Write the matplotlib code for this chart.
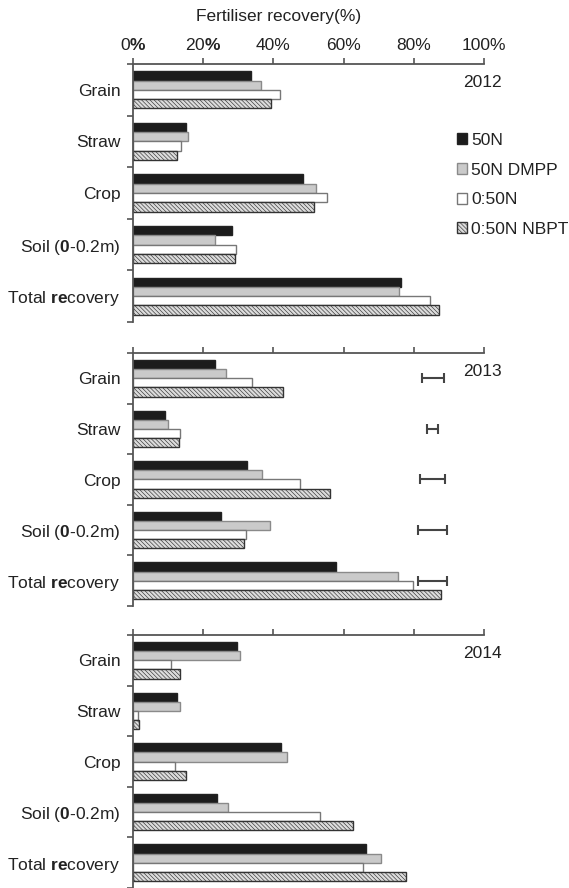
import numpy as np
import matplotlib
matplotlib.use('Agg')
import matplotlib.pyplot as plt

plt.rcParams['font.family'] = ['Liberation Sans', 'DejaVu Sans']
plt.rcParams['mathtext.fontset'] = 'custom'
plt.rcParams['mathtext.rm'] = 'Liberation Sans'
plt.rcParams['mathtext.bf'] = 'Liberation Sans:bold'
plt.rcParams['hatch.linewidth'] = 0.45
plt.rcParams['hatch.color'] = '#6a6a6a'

## Data (fertiliser recovery, %)
categories = ['Grain', 'Straw', 'Crop', r'Soil ($\mathbf{0}$-0.2m)', r'Total $\mathbf{re}$covery']
series = ['50N', '50N DMPP', '0:50N', '0:50N NBPT']
years = ['2012', '2013', '2014']

# rows: series, columns: categories
rec_2012 = [[33.7, 15.0, 48.5, 28.3, 76.3],
            [36.5, 15.7, 52.2, 23.4, 75.7],
            [41.9, 13.6, 55.3, 29.3, 84.7],
            [39.2, 12.5, 51.7, 29.1, 87.1]]
rec_2013 = [[23.3, 9.1, 32.4, 25.2, 57.8],
            [26.6, 9.9, 36.7, 38.9, 75.4],
            [33.8, 13.5, 47.5, 32.2, 79.8],
            [42.8, 13.2, 56.1, 31.7, 87.8]]
rec_2014 = [[29.6, 12.6, 42.3, 24.0, 66.4],
            [30.6, 13.3, 43.9, 27.0, 70.7],
            [10.7, 1.4, 12.1, 53.2, 65.4],
            [13.5, 1.6, 15.2, 62.7, 77.7]]

# LSD bars drawn in 2013 panel
lsd_pos_2013 = 85.4
lsd_2013 = [6.2, 3.2, 7.2, 8.4, 8.2]

xticks = [0, 20, 40, 60, 80, 100]
xticklabels = ['0$\\mathbf{\\%}$', '20$\\mathbf{\\%}$', '40%', '60%', '80%', '100%']

styles = [dict(color='#1c1c1c', edgecolor='#222222'),
          dict(color='#cacaca', edgecolor='#8a8a8a'),
          dict(color='white', edgecolor='#777777'),
          dict(color='#dcdcdc', edgecolor='#333333', hatch='\\\\\\\\\\\\\\\\')]

FS = 12.5
TXT = '#222222'
AXC = '#555555'

fig = plt.figure(figsize=(5.69, 8.88), dpi=100)
left, width = 133 / 569, 351 / 569
panels = [(64, 322), (353, 606), (635, 888)]

bar_h = 0.18
offsets = [-0.27, -0.09, 0.09, 0.27]
y = np.arange(len(categories))

for k, (data, year) in enumerate(zip([rec_2012, rec_2013, rec_2014], years)):
    top, bot = panels[k]
    ax = fig.add_axes([left, 1 - bot / 888, width, (bot - top) / 888])
    for i, vals in enumerate(data):
        ax.barh(y + offsets[i], vals, height=bar_h, linewidth=1.0,
                label=series[i], **styles[i])
    if year == '2013':
        ax.errorbar([lsd_pos_2013] * len(lsd_2013), y, xerr=np.array(lsd_2013) / 2,
                    fmt='none', ecolor='#444444', elinewidth=1.5, capsize=3.5,
                    capthick=1.5)
    ax.set_xlim(0, 100)
    ax.set_ylim(len(categories) - 0.5, -0.5)
    for s in ['right', 'bottom']:
        ax.spines[s].set_visible(False)
    for s in ['top', 'left']:
        ax.spines[s].set_color(AXC)
        ax.spines[s].set_linewidth(1.3)
    ax.xaxis.tick_top()
    ax.set_xticks(xticks)
    ax.tick_params(axis='x', direction='out', length=4, width=1.2, color=AXC,
                   pad=4, labelsize=FS, labelcolor=TXT)
    if k == 0:
        ax.set_xticklabels(xticklabels)
    else:
        ax.set_xticklabels([])
    ax.set_yticks(y)
    ax.set_yticklabels(categories)
    ax.set_yticks(np.arange(-0.5, len(categories)), minor=True)
    ax.tick_params(axis='y', which='major', length=0, pad=9, labelsize=FS,
                   labelcolor=TXT)
    ax.tick_params(axis='y', which='minor', direction='out', length=4,
                   width=1.2, color=AXC)
    ax.text(99.6, -0.14, year, ha='center', va='center', fontsize=FS, color=TXT)
    ax.patch.set_visible(False)
    if k == 0:
        ax.legend(loc='upper left', bbox_to_anchor=(457 / 569, 1 - 133 / 888),
                  bbox_transform=fig.transFigure, frameon=False, fontsize=FS,
                  handlelength=0.6, handleheight=0.6, handletextpad=0.2,
                  labelspacing=0.84, borderpad=0, borderaxespad=0,
                  labelcolor=TXT)

fig.text(279 / 569, 1 - 17 / 888, 'Fertiliser recovery(%)', ha='center',
         va='center', fontsize=FS, color=TXT)

fig.savefig('out.png', dpi=100)
plt.close('all')
